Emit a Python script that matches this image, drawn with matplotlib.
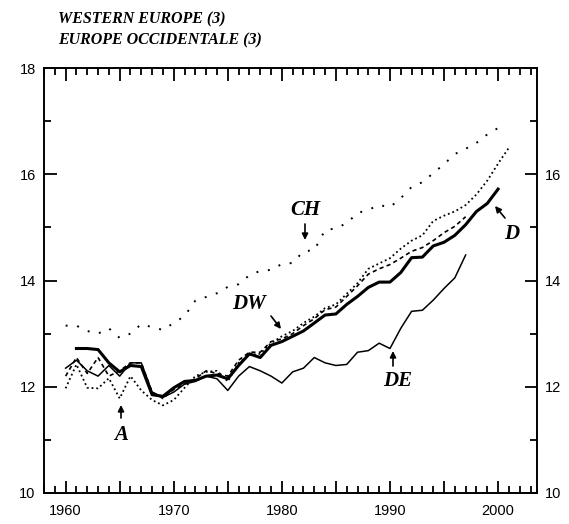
import matplotlib
matplotlib.use("Agg")
import matplotlib.pyplot as plt
from matplotlib.ticker import MultipleLocator, FixedLocator

# ---- data ----
years_D = list(range(1961, 2001))
D = [12.72, 12.72, 12.70, 12.45, 12.28, 12.40, 12.38, 11.85, 11.82, 11.98,
     12.10, 12.12, 12.20, 12.22, 12.15, 12.40, 12.62, 12.55, 12.78, 12.85,
     12.95, 13.05, 13.20, 13.35, 13.37, 13.55, 13.70, 13.87, 13.97, 13.97,
     14.15, 14.43, 14.44, 14.65, 14.72, 14.85, 15.05, 15.30, 15.45, 15.72]

years_A = list(range(1960, 2002))
A = [11.97, 12.42, 11.98, 11.97, 12.16, 11.78, 12.20, 11.93, 11.75, 11.65,
     11.75, 11.98, 12.20, 12.28, 12.30, 12.10, 12.45, 12.60, 12.62, 12.82,
     12.95, 13.05, 13.20, 13.32, 13.48, 13.55, 13.75, 13.95, 14.22, 14.32,
     14.42, 14.60, 14.75, 14.85, 15.12, 15.22, 15.30, 15.42, 15.62, 15.88,
     16.20, 16.50]

years_DW = list(range(1960, 1998))
DW = [12.20, 12.55, 12.25, 12.55, 12.20, 12.30, 12.45, 12.45, 11.90, 11.78,
      11.95, 12.05, 12.15, 12.30, 12.25, 12.20, 12.50, 12.65, 12.65, 12.85,
      12.90, 13.00, 13.15, 13.28, 13.45, 13.50, 13.70, 13.90, 14.12, 14.22,
      14.30, 14.42, 14.55, 14.62, 14.75, 14.90, 15.02, 15.20]

years_DE = list(range(1960, 1998))
DE = [12.35, 12.50, 12.30, 12.20, 12.40, 12.20, 12.45, 12.45, 11.90, 11.80,
      11.90, 12.05, 12.10, 12.20, 12.15, 11.93, 12.20, 12.38, 12.30, 12.20,
      12.07, 12.28, 12.35, 12.55, 12.45, 12.40, 12.42, 12.65, 12.68, 12.82,
      12.72, 13.10, 13.42, 13.44, 13.63, 13.85, 14.05, 14.48]

years_CH = list(range(1960, 2001))
CH = [13.15, 13.15, 13.05, 13.00, 13.10, 12.92, 13.00, 13.18, 13.12, 13.07,
      13.20, 13.33, 13.62, 13.69, 13.76, 13.88, 13.93, 14.10, 14.18, 14.20,
      14.31, 14.33, 14.55, 14.57, 14.95, 14.98, 15.08, 15.27, 15.33, 15.42,
      15.38, 15.55, 15.76, 15.85, 16.02, 16.19, 16.38, 16.48, 16.59, 16.75,
      16.87]

y_ticks_left = [10, 12, 14, 16, 18]
x_ticks = [1960, 1970, 1980, 1990, 2000]
title_lines = ["WESTERN EUROPE (3)", "EUROPE OCCIDENTALE (3)"]

W, H = 569, 524
fig = plt.figure(figsize=(W / 100, H / 100), dpi=100)
ax = fig.add_axes([44 / W, 1 - 493 / H, (537 - 44) / W, (493 - 68) / H])

ax.plot(years_CH, CH, color="black", lw=1.4, linestyle=(0, (1, 5)))
ax.plot(years_A, A, color="black", lw=1.3, linestyle=(0, (1, 1.6)))
ax.plot(years_DW, DW, color="black", lw=1.2, linestyle=(0, (2.5, 2)))
ax.plot(years_DE, DE, color="black", lw=1.1)
ax.plot(years_D, D, color="black", lw=2.2)

ax.set_xlim(1958, 2003.6)
ax.set_ylim(10, 18)

major_x = [1960, 1965, 1970, 1975, 1980, 1985, 1990, 1995, 2000]
ax.xaxis.set_minor_locator(MultipleLocator(1))
ax.yaxis.set_major_locator(FixedLocator(y_ticks_left))
ax.yaxis.set_minor_locator(MultipleLocator(1))

ax.tick_params(axis="both", which="both", direction="in", top=True, right=True,
               width=1.3, colors="black")
ax.tick_params(axis="both", which="major", length=9)
ax.tick_params(axis="both", which="minor", length=5)
ax.tick_params(axis="y", labelright=True, pad=6)
ax.tick_params(axis="x", pad=8)

ax.set_xticks(major_x)
ax.set_xticklabels([str(y) if y in x_ticks else "" for y in major_x])
for lab in ax.get_xticklabels() + ax.get_yticklabels():
    lab.set_fontfamily("Liberation Sans")
    lab.set_fontsize(10.5)
for t in ax.yaxis.get_major_ticks():
    t.label2.set_fontfamily("Liberation Sans")
    t.label2.set_fontsize(10.5)
ax.yaxis.get_major_ticks()[-1].label2.set_visible(False)

for s in ax.spines.values():
    s.set_linewidth(1.4)

tfont = dict(family="Liberation Serif", weight="bold", style="italic", fontsize=11.5)
fig.text(58 / W, 1 - 19 / H, title_lines[0], va="center", ha="left", **tfont)
fig.text(58 / W, 1 - 40 / H, title_lines[1], va="center", ha="left", **tfont)

lfont = dict(family="Liberation Serif", weight="bold", style="italic", fontsize=15)
arrow = dict(arrowstyle="-|>", color="black", lw=1.2, mutation_scale=9,
             shrinkA=0, shrinkB=0)

def px(x, y):
    return (x / W, 1 - y / H)

ax.annotate("", xy=px(305, 240), xytext=px(305, 224), xycoords="figure fraction",
            textcoords="figure fraction", arrowprops=arrow)
fig.text(*px(305, 210), "CH", ha="center", va="center", **lfont)

ax.annotate("", xy=px(281, 329), xytext=px(271, 316), xycoords="figure fraction",
            textcoords="figure fraction", arrowprops=arrow)
fig.text(*px(249, 304), "DW", ha="center", va="center", **lfont)

ax.annotate("", xy=px(495, 206), xytext=px(505, 218), xycoords="figure fraction",
            textcoords="figure fraction", arrowprops=arrow)
fig.text(*px(512, 234), "D", ha="center", va="center", **lfont)

ax.annotate("", xy=px(393, 351), xytext=px(393, 366), xycoords="figure fraction",
            textcoords="figure fraction", arrowprops=arrow)
fig.text(*px(398, 381), "DE", ha="center", va="center", **lfont)

ax.annotate("", xy=px(121, 405), xytext=px(121, 418), xycoords="figure fraction",
            textcoords="figure fraction", arrowprops=arrow)
fig.text(*px(121, 435), "A", ha="center", va="center", **lfont)

fig.savefig("out.png", dpi=100)
